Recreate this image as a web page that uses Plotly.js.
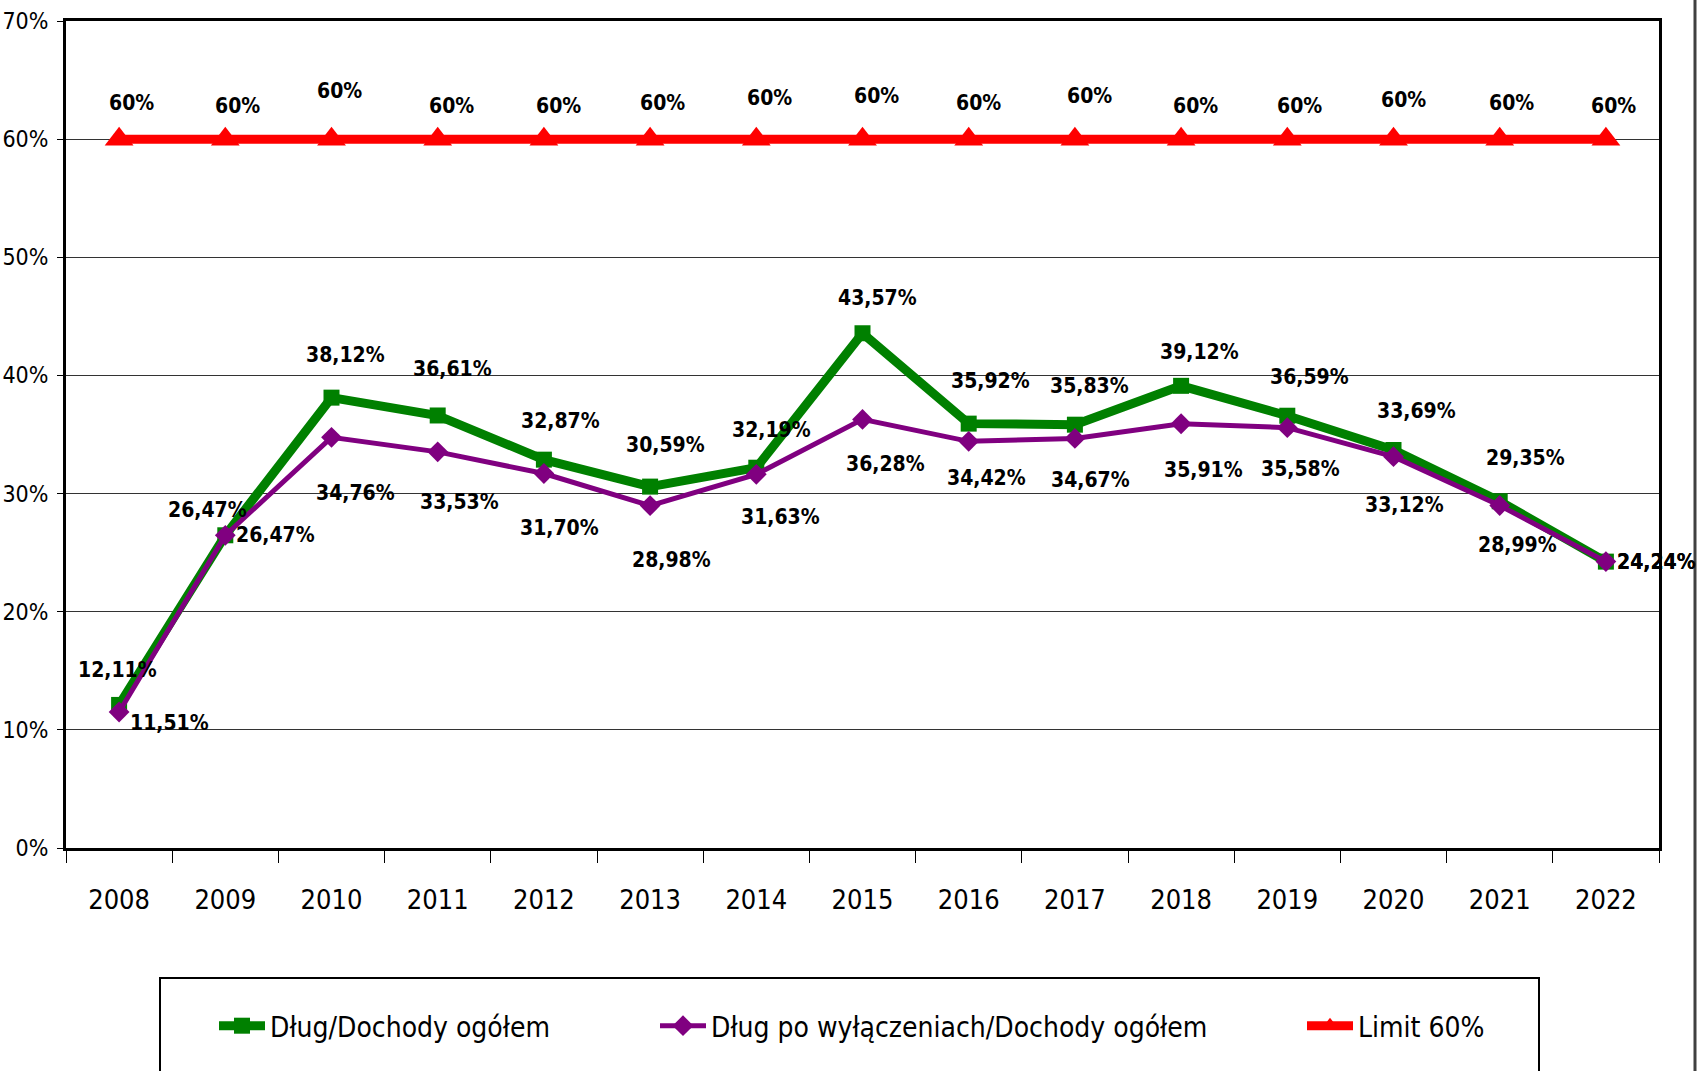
<!DOCTYPE html>
<html>
<head>
<meta charset="utf-8">
<script src="https://cdn.plot.ly/plotly-3.0.1.min.js"></script>
<style>html,body{margin:0;padding:0;background:#fff;}#chart{width:1703px;height:1071px;}</style>
</head>
<body>
<div id="chart"></div>
<script>
const years = ['2008','2009','2010','2011','2012','2013','2014','2015','2016','2017','2018','2019','2020','2021','2022'];
const debtTotal = [12.11, 26.47, 38.12, 36.61, 32.87, 30.59, 32.19, 43.57, 35.92, 35.83, 39.12, 36.59, 33.69, 29.35, 24.24];
const debtExcl = [11.51, 26.47, 34.76, 33.53, 31.70, 28.98, 31.63, 36.28, 34.42, 34.67, 35.91, 35.58, 33.12, 28.99, 24.24];
const limit60 = [60, 60, 60, 60, 60, 60, 60, 60, 60, 60, 60, 60, 60, 60, 60];
const seriesNames = ['Dług/Dochody ogółem', 'Dług po wyłączeniach/Dochody ogółem', 'Limit 60%'];

// label nudges in pixels [dx, dy] (layout only)
const limitNudge = [[12,-36],[12,-33],[8,-48],[14,-33],[15,-33],[12,-36],[13,-41],[14,-43],[10,-36],[15,-43],[14,-33],[12,-33],[10,-39],[12,-36],[8,-33]];
const totalNudge = [[-2,-35],[-18,-25],[14,-43],[15,-46],[17,-39],[15,-42],[15,-38],[15,-35],[22,-43],[15,-39],[18,-34],[22,-39],[23,-39],[26,-43],[51,0]];
const exclNudge = [[50,11],[50,0],[24,56],[22,50],[16,55],[21,54],[24,43],[23,45],[18,37],[16,42],[22,46],[13,41],[11,48],[18,39],[51,0]];

const FONT = '"Liberation Sans Narrow", "Arial Narrow", "DejaVu Sans Condensed", "Liberation Sans", Arial, sans-serif';

const fmt = v => (Number.isInteger(v) ? String(v) : v.toFixed(2).replace('.', ',')) + '%';

const traces = [
  {x: years, y: debtTotal, name: seriesNames[0], type: 'scatter', mode: 'lines+markers',
   line: {color: '#008000', width: 9}, marker: {symbol: 'square', size: 16, color: '#008000'}, legend: 'legend'},
  {x: years, y: debtExcl, name: seriesNames[1], type: 'scatter', mode: 'lines+markers',
   line: {color: '#800080', width: 5}, marker: {symbol: 'diamond', size: 16, color: '#800080'}, legend: 'legend2'},
  {x: years, y: limit60, name: seriesNames[2], type: 'scatter', mode: 'lines+markers',
   line: {color: '#FF0000', width: 9}, marker: {symbol: 'triangle-up', size: 25, color: '#FF0000'}, legend: 'legend3'}
];

const annotations = [];
function addLabels(vals, nudge) {
  vals.forEach((v, i) => {
    annotations.push({x: i, y: v, xref: 'x', yref: 'y', text: '<b>' + fmt(v) + '</b>', showarrow: false,
      xshift: nudge[i][0], yshift: -nudge[i][1],
      font: {family: FONT, size: 21, color: '#000'}});
  });
}
addLabels(limit60, limitNudge);
addLabels(debtTotal, totalNudge);
addLabels(debtExcl, exclNudge);

const L = 66, R = 1659, T = 21, B = 848, W = 1703, H = 1071;
const px = p => (p - L) / (R - L);
const py = p => (B - p) / (B - T);

const legendBase = {orientation: 'h', xanchor: 'left', yanchor: 'middle', y: py(1026),
  bgcolor: 'rgba(0,0,0,0)', borderwidth: 0, itemwidth: 46,
  font: {family: FONT, size: 28, color: '#000'}};

const layout = {
  width: W, height: H,
  margin: {l: L, r: W - R, t: T, b: H - B, pad: 0},
  paper_bgcolor: '#fff', plot_bgcolor: '#fff',
  showlegend: true,
  font: {family: FONT, color: '#000'},
  xaxis: {type: 'category', range: [-0.5, 14.5], tickson: 'boundaries', ticks: 'outside', ticklen: 12,
    tickwidth: 1, tickcolor: '#000', showline: true, linewidth: 3, linecolor: '#000', mirror: true,
    showgrid: false, ticklabelstandoff: 26, tickfont: {family: FONT, size: 27, color: '#000'}},
  yaxis: {range: [0, 70], dtick: 10, ticksuffix: '%', ticks: 'outside', ticklen: 6, tickwidth: 1,
    tickcolor: '#000', showline: true, linewidth: 3, linecolor: '#000', mirror: true,
    showgrid: true, gridcolor: '#333', gridwidth: 1, zeroline: false, ticklabelstandoff: 4,
    tickfont: {family: FONT, size: 23, color: '#000'}},
  legend: Object.assign({}, legendBase, {x: px(214)}),
  legend2: Object.assign({}, legendBase, {x: px(655)}),
  legend3: Object.assign({}, legendBase, {x: px(1302)}),
  annotations: annotations,
  shapes: [
    {type: 'rect', xref: 'paper', yref: 'paper', x0: px(160), x1: px(1539), y0: py(978), y1: py(1090),
     line: {color: '#000', width: 2}, fillcolor: 'rgba(0,0,0,0)', layer: 'below'},
    {type: 'line', xref: 'paper', yref: 'paper', x0: px(1695), x1: px(1695), y0: py(-10), y1: py(1090),
     line: {color: '#404040', width: 3}}
  ]
};

Plotly.newPlot('chart', traces, layout, {displayModeBar: false, staticPlot: true});
</script>
</body>
</html>
